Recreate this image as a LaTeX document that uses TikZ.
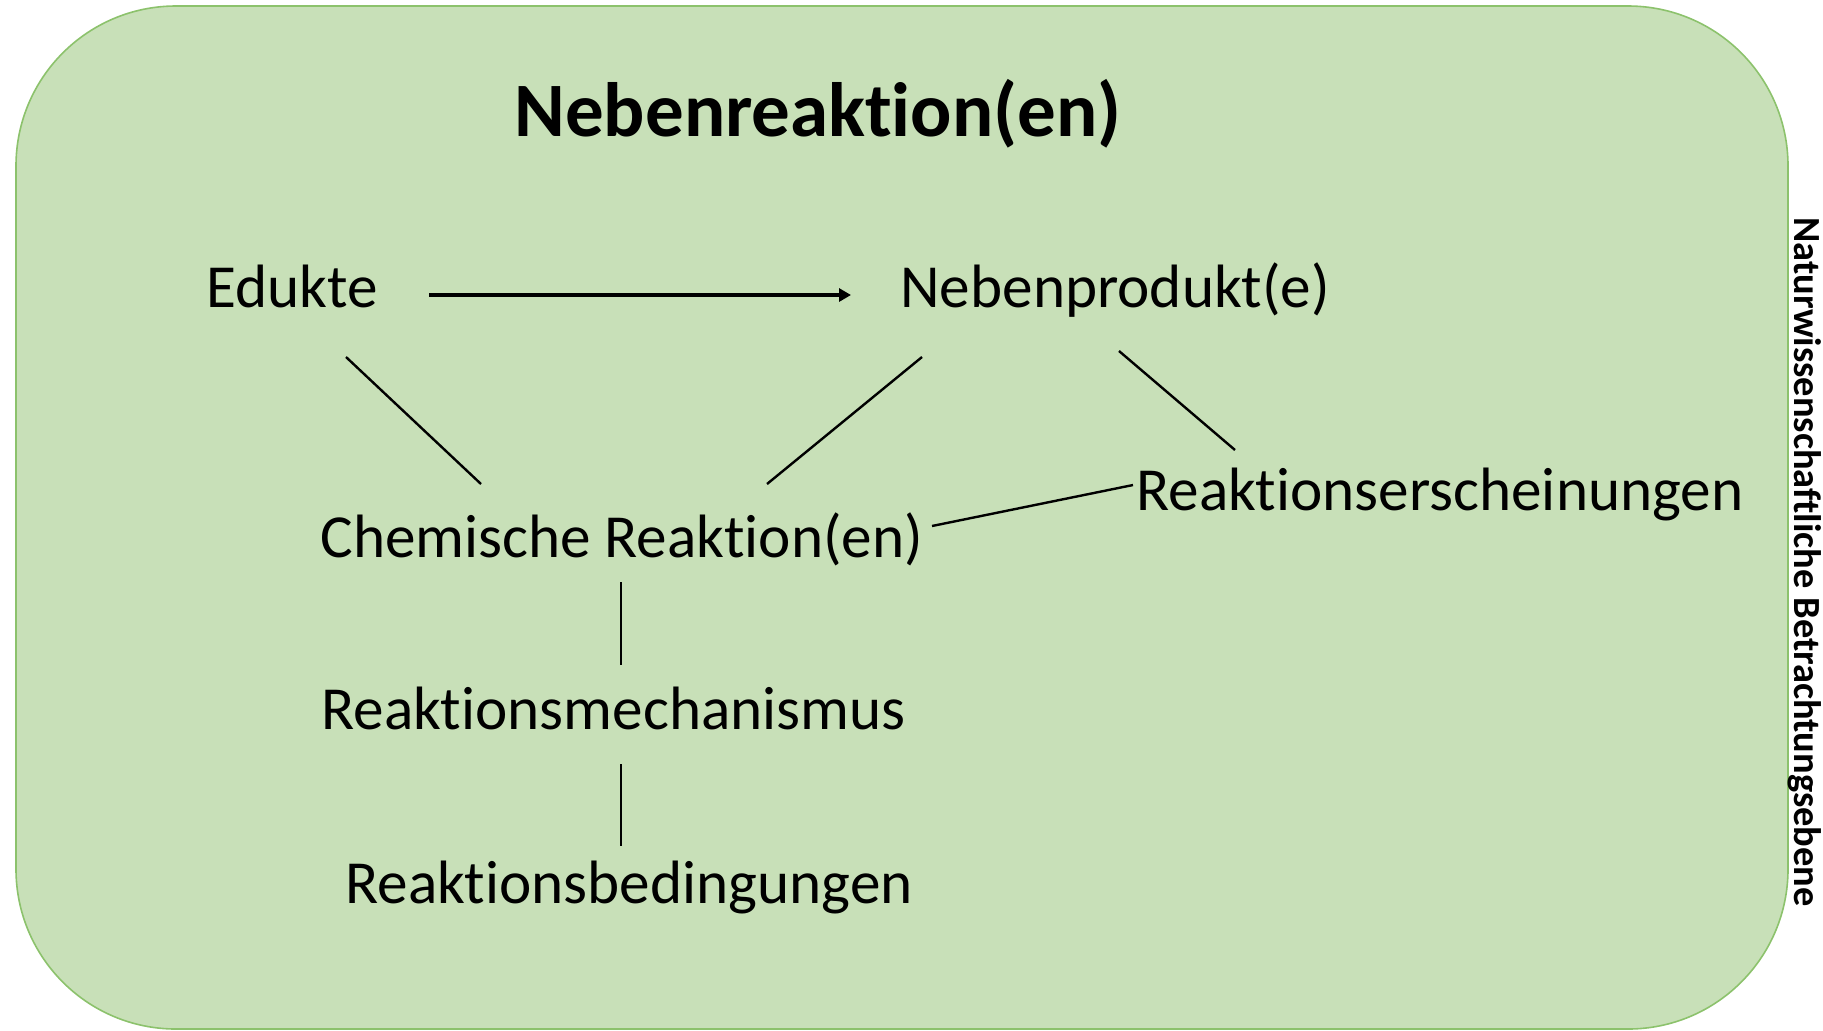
\documentclass[tikz,border=0pt]{standalone}
\usepackage{fontspec}
\setmainfont{Carlito}[Ligatures={NoCommon,NoContextual,NoRare}]
\usetikzlibrary{arrows.meta}
\definecolor{boxfill}{HTML}{C8E0B8}
\definecolor{boxline}{HTML}{8CC26C}
\begin{document}
\begin{tikzpicture}[x=0.5pt,y=-0.5pt,
  lbl/.style={inner sep=0pt,anchor=base west,font=\fontsize{30.6}{37}\selectfont},
  conn/.style={draw=black,line width=1.2pt},
  arr/.style={draw=black,line width=1.6pt,-{Triangle[length=6pt,width=6.5pt]}}]
\useasboundingbox (0,0) rectangle (1823,1030);
\draw[fill=boxfill,draw=boxline,line width=0.8pt,rounded corners=80pt] (16,6) rectangle (1788,1029);
\node[inner sep=0pt,anchor=base,font=\fontsize{38.5}{46}\selectfont\bfseries] (title) at (818,136) {Nebenreaktion(en)};
\node[inner sep=0pt,anchor=center,rotate=-90,font=\fontsize{19.2}{23}\selectfont\bfseries] (side) at (1805,562) {Naturwissenschaftliche Betrachtungsebene};
\node[lbl] (edukte) at (206,307) {Edukte};
\node[lbl] (neben) at (900,307) {Nebenprodukt(e)};
\node[lbl] (chem) at (320,557) {Chemische Reaktion(en)};
\node[lbl] (ersch) at (1136,510) {Reaktionserscheinungen};
\node[lbl] (mech) at (321,729) {Reaktionsmechanismus};
\node[lbl] (bed) at (345,903) {Reaktionsbedingungen};
% connector end points
\coordinate (eduk-r) at (429,295);
\coordinate (neben-l) at (851,295);
\coordinate (eduk-s) at (346,357);
\coordinate (chem-nw) at (481,484);
\coordinate (neben-sw) at (922,357);
\coordinate (chem-ne) at (767,484);
\coordinate (neben-se) at (1119,351);
\coordinate (ersch-n) at (1235,450);
\coordinate (chem-e) at (932,526);
\coordinate (ersch-w) at (1133,485);
\coordinate (chem-s) at (621,582);
\coordinate (mech-n) at (621,665);
\coordinate (mech-s) at (621,764);
\coordinate (bed-n) at (621,846);
\draw[arr] (eduk-r) -- (neben-l);
\draw[conn] (eduk-s) -- (chem-nw);
\draw[conn] (neben-sw) -- (chem-ne);
\draw[conn] (neben-se) -- (ersch-n);
\draw[conn] (chem-e) -- (ersch-w);
\draw[conn] (chem-s) -- (mech-n);
\draw[conn] (mech-s) -- (bed-n);
\end{tikzpicture}
\end{document}
